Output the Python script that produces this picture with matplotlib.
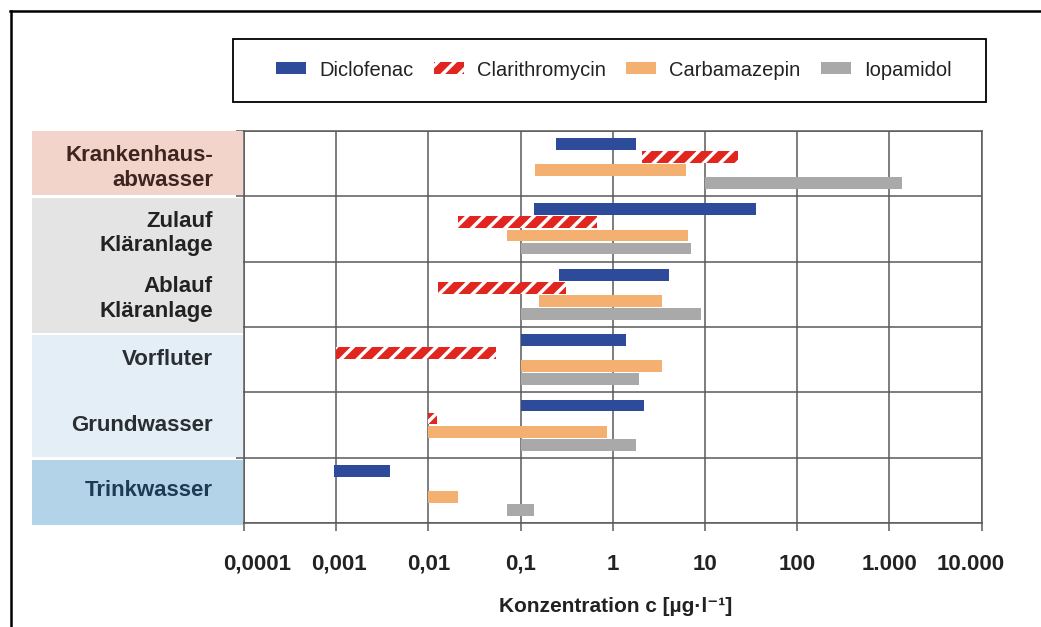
import numpy as np
import matplotlib
matplotlib.use('Agg')
import matplotlib.pyplot as plt
import matplotlib.transforms as mtrans
from matplotlib.patches import Rectangle, Patch
from matplotlib.lines import Line2D

plt.rcParams['font.family'] = ['Liberation Sans', 'DejaVu Sans']
plt.rcParams['hatch.linewidth'] = 2.5

# locations (top to bottom)
locations = ['Krankenhaus-\nabwasser', 'Zulauf\nKläranlage', 'Ablauf\nKläranlage',
             'Vorfluter', 'Grundwasser', 'Trinkwasser']

# concentration ranges [µg/l], low / high per location
diclofenac_lo = [0.24, 0.14, 0.26, 0.1, 0.1, 0.00095]
diclofenac_hi = [1.8, 36, 4.1, 1.38, 2.2, 0.0038]
clarithro_lo = [2.05, 0.021, 0.0126, 0.001, 0.01, np.nan]
clarithro_hi = [23, 0.67, 0.31, 0.054, 0.0124, np.nan]
carba_lo = [0.143, 0.071, 0.16, 0.1, 0.01, 0.01]
carba_hi = [6.2, 6.6, 3.44, 3.4, 0.87, 0.021]
iopa_lo = [10, 0.1, 0.1, 0.1, 0.1, 0.071]
iopa_hi = [1350, 7.0, 9.0, 1.9, 1.78, 0.14]

substances = ['Diclofenac', 'Clarithromycin', 'Carbamazepin', 'Iopamidol']
xticks = [1e-4, 1e-3, 1e-2, 1e-1, 1, 10, 100, 1000, 10000]
xticklabels = ['0,0001', '0,001', '0,01', '0,1', '1', '10', '100', '1.000', '10.000']

colors = ['#2e4b9b', '#e0261e', '#f4b070', '#a9a9a9']
hatches = [None, '//', None, None]
ranges = [(diclofenac_lo, diclofenac_hi), (clarithro_lo, clarithro_hi),
          (carba_lo, carba_hi), (iopa_lo, iopa_hi)]

W, H = 1041, 627
fig = plt.figure(figsize=(W / 100, H / 100), dpi=100)
ax = fig.add_axes([244 / W, 1 - 523.3 / H, (981.7 - 244) / W, (523.3 - 130.7) / H])

gridc = '#5a5a5a'
bar_h = 0.18
for k, (lo, hi) in enumerate(ranges):
    lo = np.array(lo, dtype=float)
    hi = np.array(hi, dtype=float)
    ok = ~np.isnan(lo)
    y = np.arange(len(locations))[ok] + 0.2 + 0.2 * k
    if hatches[k]:
        ax.barh(y, hi[ok] - lo[ok], left=lo[ok], height=bar_h, color=colors[k],
                edgecolor='white', linewidth=0, hatch=hatches[k], zorder=3)
    else:
        ax.barh(y, hi[ok] - lo[ok], left=lo[ok], height=bar_h, color=colors[k],
                linewidth=0, zorder=3)

ax.set_xscale('log')
ax.set_xlim(1e-4, 1e4)
ax.set_ylim(len(locations), 0)
ax.set_xticks(xticks)
ax.set_xticklabels(xticklabels)
ax.xaxis.set_minor_locator(matplotlib.ticker.NullLocator())
ax.set_yticks(range(len(locations) + 1))
ax.set_yticklabels([])
ax.tick_params(axis='both', direction='out', length=6, width=1.1, color=gridc)
ax.tick_params(axis='x', pad=16, labelsize=16, labelcolor='#222222')
for lab in ax.get_xticklabels():
    lab.set_fontweight('bold')
ax.grid(color=gridc, linewidth=1.1, zorder=0)
ax.set_axisbelow(True)
for sp in ax.spines.values():
    sp.set_color(gridc)
    sp.set_linewidth(1.1)

# shift the outer tick labels inwards a bit
offs = [13, 3, 0, 0, 0, 0, 0, 0, -11]
for lab, dx in zip(ax.get_xticklabels(), offs):
    lab.set_transform(lab.get_transform() + mtrans.ScaledTranslation(dx / 100, 0, fig.dpi_scale_trans))

# coloured label boxes on the left
tr = mtrans.blended_transform_factory(fig.transFigure, ax.transData)
boxes = [(0.0, 0.98, '#f3d4ca'), (1.03, 3.09, '#e4e4e4'),
         (3.12, 4.98, '#e4eef6'), (5.03, 6.02, '#b3d3e8')]
for y0, y1, c in boxes:
    fig.patches.append(Rectangle((32 / W, y0), (243 - 32) / W, y1 - y0, transform=tr,
                                 facecolor=c, edgecolor='none', zorder=0))
txtc = ['#3e2520', '#222222', '#222222', '#2a2e33', '#2a2e33', '#1f3a55']
for i, (name, c) in enumerate(zip(locations, txtc)):
    dy = 0.07 if '\n' in name else 0.0
    fig.text(213 / W, i + 0.5 + dy, name, transform=tr, ha='right', va='center',
             fontsize=16, fontweight='bold', color=c, linespacing=1.22)

fig.text(616 / W, 1 - 607 / H, 'Konzentration c [µg·l⁻¹]', ha='center', va='center',
         fontsize=15, fontweight='bold', color='#222222')

# legend with box
fig.patches.append(Rectangle((233 / W, 1 - 102 / H), (986 - 233) / W, 63 / H,
                             transform=fig.transFigure, facecolor='white',
                             edgecolor='black', linewidth=1.3))
handles = [Patch(facecolor=c, edgecolor='white' if h else c, linewidth=0, hatch=h)
           for c, h in zip(colors, hatches)]
fig.legend(handles, substances, loc='center', bbox_to_anchor=(614 / W, 1 - 70 / H),
           ncol=4, frameon=False, fontsize=14.5, handlelength=1.5, handleheight=0.55,
           handletextpad=0.65, columnspacing=1.0, labelcolor='#222222')

# outer frame (cut off at right and bottom)
fig.add_artist(Line2D([10.5 / W, 10.5 / W], [0, 1 - 11 / H], transform=fig.transFigure,
                      color='black', linewidth=1.8))
fig.add_artist(Line2D([10 / W, 1], [1 - 11 / H, 1 - 11 / H], transform=fig.transFigure,
                      color='black', linewidth=1.8))

fig.savefig('out.png', dpi=100)
